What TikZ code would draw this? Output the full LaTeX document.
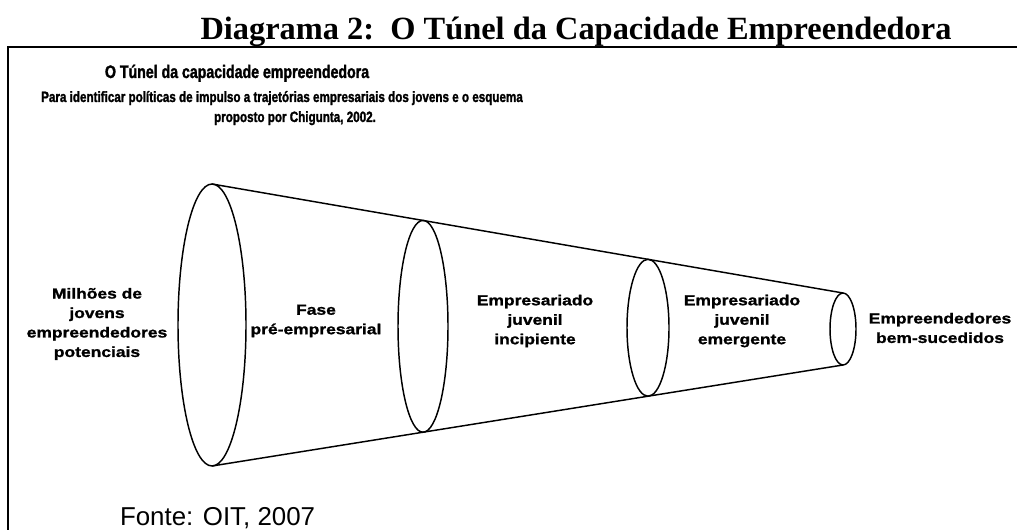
\documentclass[tikz,border=0pt]{standalone}
\usepackage{fontspec}
\setmainfont{Liberation Serif}
\setsansfont{Liberation Sans}
\newfontfamily\narrowsans[FakeStretch=0.78, FakeBold=1.6]{Liberation Sans}
\newfontfamily\widesans[FakeStretch=1.2, FakeBold=1.2]{Liberation Sans}
\usetikzlibrary{shapes.geometric}

\begin{document}
\begin{tikzpicture}[
        x=0.75pt, y=-0.75pt,
        every node/.style={inner sep=0pt, outer sep=0pt},
        ring/.style 2 args={draw, ellipse, line width=1.1pt, minimum width=#1*1.5pt, minimum height=#2*1.5pt},
        stage/.style={align=center, font=\widesans\bfseries\fontsize{10.9}{14.6}\selectfont},
        intro/.style={anchor=base, font=\narrowsans\bfseries\fontsize{11.2}{15}\selectfont},
        ]
    \useasboundingbox (0,0) rectangle (1017,530);
    \node[anchor=base, font=\bfseries\fontsize{24.3}{28}\selectfont] (title) at (576,40) {Diagrama 2:\ \ O Túnel da Capacidade Empreendedora};
    \draw[line width=1.5pt] (1017,47) -- (8,47) -- (8,530);
    \node[anchor=base west, font=\narrowsans\bfseries\fontsize{13.6}{17}\selectfont] (heading) at (105,78) {O Túnel da capacidade empreendedora};
    \node[intro] (aim) at (282,102) {Para identificar políticas de impulso a trajetórias empresariais dos jovens e o esquema};
    \node[intro] (aim2) at (295,122) {proposto por Chigunta, 2002.};
    % the tunnel
    \node[ring={34}{141}] (r1) at (212,325) {};
    \node[ring={25}{105.9}] (r2) at (423,326.3) {};
    \node[ring={21}{68.45}] (r3) at (648,327.75) {};
    \node[ring={13}{36}] (r4) at (843,329) {};
    \draw[line width=1.1pt] (r1.north) -- (r4.north);
    \draw[line width=1.1pt] (r1.south) -- (r4.south);
    % stages
    \node[stage] (million) at (97,324) {Milhões de\\jovens\\empreendedores\\potenciais};
    \node[stage] (pre) at (316,321) {Fase\\pré-empresarial};
    \node[stage] (incipient) at (535,321) {Empresariado\\juvenil\\incipiente};
    \node[stage] (emergent) at (742,321) {Empresariado\\juvenil\\emergente};
    \node[stage] (success) at (940,328) {Empreendedores\\bem-sucedidos};
    \node[anchor=base west, font=\sffamily\fontsize{19.4}{22}\selectfont] (source) at (120,525) {Fonte: OIT, 2007};
\end{tikzpicture}
\end{document}
